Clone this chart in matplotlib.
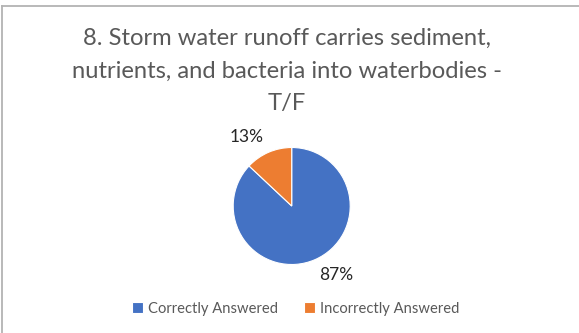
import matplotlib
matplotlib.use("Agg")
import matplotlib.pyplot as plt
from matplotlib.lines import Line2D
import numpy as np

title = "8. Storm water runoff carries sediment,\nnutrients, and bacteria into waterbodies -\nT/F"
categories = ["Correctly Answered", "Incorrectly Answered"]
values = [87, 13]
colors = ["#4472C4", "#ED7D31"]

plt.rcParams["font.family"] = ["Lato", "DejaVu Sans"]
W, H = 579, 333
fig = plt.figure(figsize=(W / 100, H / 100), dpi=100)

# frame of the chart area (only left/top visible in the crop)
fig.add_artist(Line2D([2 / W, 2 / W], [0, 1 - 6 / H], transform=fig.transFigure, color="#b3b3b3", lw=1.3))
fig.add_artist(Line2D([2 / W, 1], [1 - 6 / H, 1 - 6 / H], transform=fig.transFigure, color="#b3b3b3", lw=1.3))

fig.text(287 / W, 1 - 71 / H, title, ha="center", va="center", fontsize=17.1,
         color="#595959", linespacing=1.68)

cx, cy, r = 291.7, 206, 58.5
ax = fig.add_axes([(cx - r) / W, (H - cy - r) / H, 2 * r / W, 2 * r / H])
wedges, texts, autotexts = ax.pie(values, colors=colors, startangle=90, counterclock=False,
                                  autopct="%.0f%%", pctdistance=1.41,
                                  wedgeprops=dict(linewidth=0.8, edgecolor="white"),
                                  textprops=dict(fontsize=12.5, color="#262626"))
# excel places labels a bit counter-clockwise of the slice middle
for t in autotexts:
    x, y = t.get_position()
    a = np.arctan2(y, x) + np.deg2rad(9.5)
    d = np.hypot(x, y)
    t.set_position((d * np.cos(a), d * np.sin(a)))
ax.set_xlim(-1, 1)
ax.set_ylim(-1, 1)
ax.set_aspect("equal")
ax.axis("off")

leg = fig.legend(wedges, categories, loc="center", bbox_to_anchor=(296 / W, 1 - 309 / H),
                 ncol=2, frameon=False, fontsize=10.6, handlelength=0.75, handleheight=0.75,
                 handletextpad=0.35, columnspacing=1.75, labelcolor="#595959")

fig.savefig("out.png", dpi=100)
